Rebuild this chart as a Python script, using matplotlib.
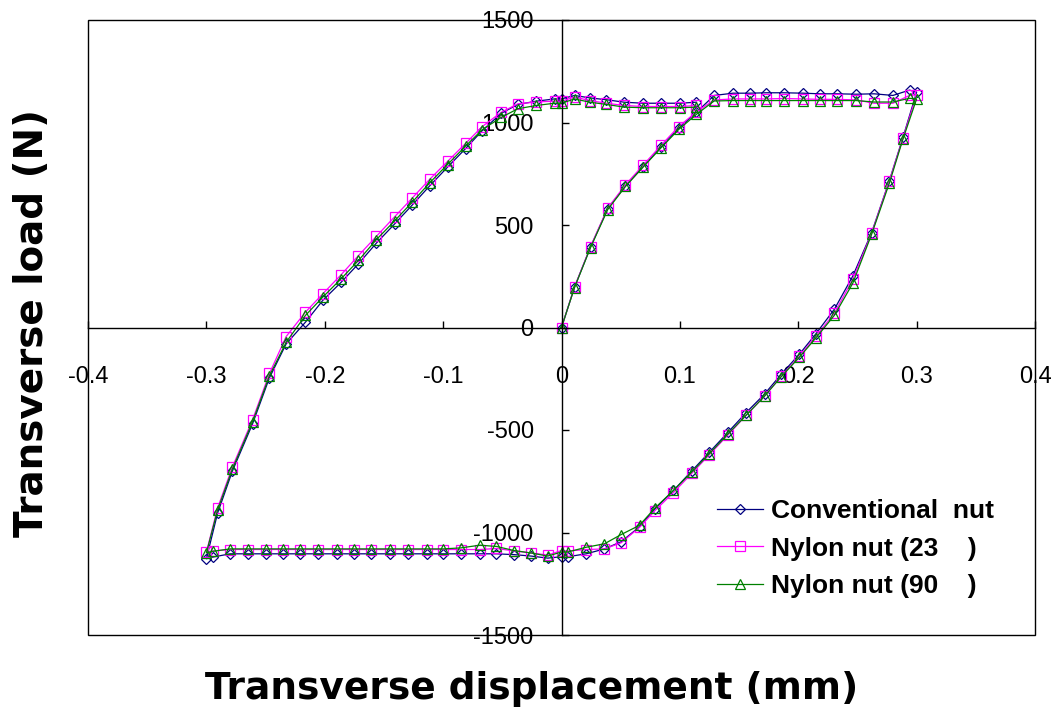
import matplotlib
matplotlib.use("Agg")
import matplotlib.pyplot as plt
from matplotlib.patches import Rectangle

# ----------------------------------------------------
# Hysteresis loop data: transverse displacement (mm) vs load (N)
# one cycle: initial loading -> +0.3 mm, unloading -> -0.3 mm, reloading
# ----------------------------------------------------
disp = [
    # initial loading + upper plateau
    0, 0.011, 0.0245, 0.039, 0.054, 0.069, 0.084, 0.099, 0.114, 0.129, 0.145,
    0.159, 0.173, 0.188, 0.204, 0.218, 0.233, 0.249, 0.264, 0.28, 0.294, 0.3,
    # unloading branch + lower plateau
    0.2885, 0.277, 0.262, 0.246, 0.2306, 0.215, 0.201, 0.1856, 0.1715, 0.156,
    0.1405, 0.125, 0.110, 0.0946, 0.079, 0.0659, 0.0504, 0.0363, 0.0209, 0.0053,
    0, -0.0116, -0.0256, -0.04, -0.055, -0.069, -0.085, -0.0997, -0.114, -0.13,
    -0.145, -0.161, -0.1755, -0.19, -0.206, -0.2207, -0.2354, -0.25, -0.265,
    -0.28, -0.2946, -0.3,
    # reloading branch
    -0.2905, -0.278, -0.261, -0.2467, -0.2326, -0.2163, -0.2017, -0.1861,
    -0.1715, -0.1565, -0.141, -0.126, -0.1115, -0.0963, -0.081, -0.067,
    -0.0509, -0.0369, -0.0214, -0.0059, 0, 0.011, 0.024, 0.038, 0.053, 0.069,
    0.084, 0.1, 0.114,
]

load_conventional = [
    0, 197, 392, 580, 690, 785, 880, 972, 1050, 1132, 1143,
    1143, 1145, 1145, 1143, 1140, 1140, 1138, 1140, 1132, 1158, 1148,
    928, 717, 463, 250, 90, -30, -130, -228, -325, -415,
    -512, -608, -700, -795, -885, -972, -1045, -1080, -1104, -1118,
    -1118, -1125, -1115, -1108, -1104, -1104, -1104, -1104, -1104, -1104,
    -1104, -1104, -1104, -1104, -1104, -1104, -1104, -1104, -1104,
    -1104, -1120, -1128,
    -905, -700, -470, -245, -80, 26, 132, 221,
    311, 411, 505, 598, 690, 782, 873, 960,
    1045, 1088, 1104, 1115, 1115, 1132, 1120, 1111, 1099, 1094,
    1094, 1094, 1099,
]

load_nylon23 = [
    0, 197, 395, 582, 696, 792, 888, 980, 1052, 1110, 1115,
    1115, 1115, 1117, 1115, 1113, 1113, 1110, 1094, 1094, 1132, 1135,
    925, 715, 460, 235, 70, -42, -140, -238, -335, -428,
    -525, -620, -712, -805, -893, -975, -1050, -1080, -1083, -1090,
    -1088, -1110, -1100, -1090, -1078, -1083, -1083, -1083, -1083, -1083,
    -1083, -1083, -1083, -1083, -1083, -1083, -1083, -1083, -1083,
    -1083, -1090, -1096,
    -880, -680, -450, -224, -44, 75, 164, 258,
    351, 444, 540, 632, 722, 810, 898, 980,
    1050, 1091, 1100, 1104, 1104, 1124, 1107, 1094, 1083, 1078,
    1078, 1078, 1083,
]

load_nylon90 = [
    0, 195, 390, 575, 688, 783, 876, 966, 1040, 1105, 1107,
    1107, 1107, 1107, 1107, 1107, 1107, 1107, 1100, 1100, 1118, 1115,
    920, 705, 455, 215, 60, -50, -145, -240, -335, -428,
    -520, -615, -705, -795, -880, -965, -1010, -1055, -1072, -1095,
    -1095, -1115, -1100, -1088, -1068, -1062, -1075, -1080, -1080, -1080,
    -1080, -1080, -1080, -1080, -1080, -1080, -1080, -1080, -1080,
    -1080, -1092, -1100,
    -890, -690, -460, -235, -72, 59, 148, 238,
    327, 428, 520, 612, 705, 795, 885, 965,
    1025, 1067, 1083, 1094, 1094, 1115, 1099, 1088, 1075, 1072,
    1072, 1072, 1075,
]

labels = ["Conventional  nut", "Nylon nut (23    )", "Nylon nut (90    )"]
x_ticks = [-0.4, -0.3, -0.2, -0.1, 0, 0.1, 0.2, 0.3, 0.4]
x_tick_labels = ["-0.4", "-0.3", "-0.2", "-0.1", "0", "0.1", "0.2", "0.3", "0.4"]
y_ticks = [-1500, -1000, -500, 0, 500, 1000, 1500]
y_tick_labels = ["-1500", "-1000", "-500", "0", "500", "1000", "1500"]

# ----------------------------------------------------
# Figure
# ----------------------------------------------------
W, H = 1057, 710
fig = plt.figure(figsize=(W / 100, H / 100), dpi=100)
ax = fig.add_axes([88 / W, 1 - 635 / H, (1035 - 88) / W, (635 - 20) / H])

styles = [
    dict(color="#000080", marker="D", ms=5.5),
    dict(color="#FF00FF", marker="s", ms=6.5),
    dict(color="#008000", marker="^", ms=7),
]
for load, lab, st in zip([load_conventional, load_nylon23, load_nylon90], labels, styles):
    ax.plot(disp, load, color=st["color"], lw=0.9, marker=st["marker"],
            ms=st["ms"], mfc="none", mec=st["color"], mew=0.9, label=lab)

ax.set_xlim(-0.4, 0.4)
ax.set_ylim(-1500, 1500)

# axes through the origin, outer box drawn separately
ax.spines["left"].set_position(("data", 0))
ax.spines["bottom"].set_position(("data", 0))
ax.spines["top"].set_visible(False)
ax.spines["right"].set_visible(False)
for s in ["left", "bottom"]:
    ax.spines[s].set_linewidth(1.0)
    ax.spines[s].set_color("black")
ax.add_patch(Rectangle((0, 0), 1, 1, transform=ax.transAxes, fill=False,
                       lw=1.0, ec="black", clip_on=False, zorder=0))

tick_font = dict(family="Liberation Sans", size=17)
ax.set_xticks(x_ticks)
ax.set_xticklabels(x_tick_labels, **tick_font)
ax.set_yticks(y_ticks)
ax.set_yticklabels(y_tick_labels, **tick_font)
ax.tick_params(axis="both", direction="in", length=5, width=1)
ax.tick_params(axis="x", pad=28)
ax.tick_params(axis="y", pad=20)

fig.text(532 / W, 1 - 689 / H, "Transverse displacement (mm)", ha="center",
         va="center", fontsize=27, fontweight="bold", family="DejaVu Sans")
fig.text(32 / W, 1 - 323 / H, "Transverse load (N)", ha="center",
         va="center", rotation=90, fontsize=28, fontweight="bold",
         family="DejaVu Sans")

leg = ax.legend(loc="upper left", bbox_to_anchor=(717 / W, 1 - 499 / H),
                bbox_transform=fig.transFigure, frameon=False, borderpad=0,
                handlelength=1.75, handletextpad=0.3, labelspacing=0.52,
                borderaxespad=0, prop=dict(family="Liberation Sans",
                                           weight="bold", size=19))

fig.savefig("out.png", dpi=100)
